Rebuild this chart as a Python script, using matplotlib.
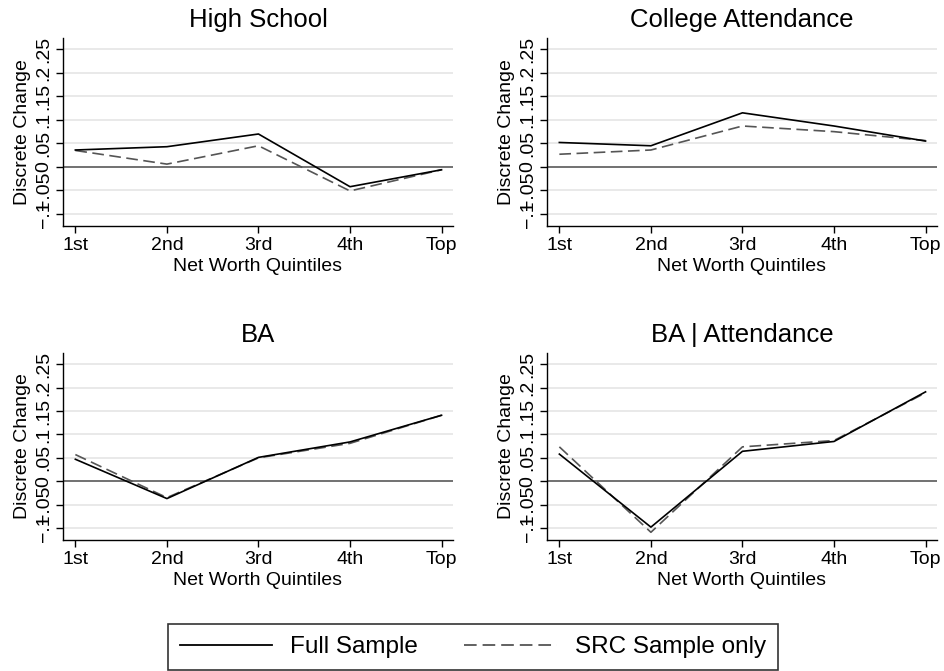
import matplotlib
matplotlib.use("Agg")
import matplotlib.pyplot as plt
from matplotlib.lines import Line2D

plt.rcParams['font.family'] = ['Liberation Sans', 'DejaVu Sans']

quintiles = ["1st", "2nd", "3rd", "4th", "Top"]
titles = ["High School", "College Attendance", "BA", "BA | Attendance"]

hs_full = [0.036, 0.043, 0.070, -0.042, -0.006]
hs_src = [0.035, 0.006, 0.045, -0.051, -0.006]
col_full = [0.052, 0.045, 0.115, 0.087, 0.055]
col_src = [0.027, 0.036, 0.087, 0.075, 0.056]
ba_full = [0.047, -0.037, 0.051, 0.084, 0.141]
ba_src = [0.057, -0.035, 0.050, 0.081, 0.141]
baa_full = [0.058, -0.098, 0.064, 0.085, 0.191]
baa_src = [0.0735, -0.109, 0.0735, 0.087, 0.189]

full_series = [hs_full, col_full, ba_full, baa_full]
src_series = [hs_src, col_src, ba_src, baa_src]

yticks = [-0.1, -0.05, 0, 0.05, 0.1, 0.15, 0.2, 0.25]
ytick_labels = ["\u2212.1", "\u2212.05", "0", ".05", ".1", ".15", ".2", ".25"]

W, H = 945, 671
fig = plt.figure(figsize=(W / 100, H / 100), dpi=100)

# axes boxes in pixels: left, top, right, bottom
boxes = [(63, 38, 453, 226), (547, 38, 937, 226),
         (63, 353, 453, 540), (547, 353, 937, 540)]

DASH = (7, 3.3)
x = list(range(1, 6))
for i, (l, t, r, b) in enumerate(boxes):
    ax = fig.add_axes([l / W, 1 - b / H, (r - l) / W, (b - t) / H])
    for yv in yticks:
        if yv != 0:
            ax.axhline(yv, color="#e3e3e3", lw=1.1, zorder=0)
    ax.axhline(0, color="#4a4a4a", lw=1.1, zorder=1)
    ax.plot(x, src_series[i], color="#555555", lw=1.2, dashes=DASH, zorder=2)
    ax.plot(x, full_series[i], color="black", lw=1.2, zorder=3)
    ax.set_xlim(0.865, 5.125)
    ax.set_ylim(-0.1255, 0.274)
    ax.set_xticks(x)
    ax.set_xticklabels(quintiles, fontsize=14)
    ax.set_yticks(yticks)
    ax.set_yticklabels(ytick_labels, fontsize=14, rotation=90, va="center")
    ax.set_title(titles[i], fontsize=18.5, pad=8)
    ax.set_xlabel("Net Worth Quintiles", fontsize=14, labelpad=3)
    ax.set_ylabel("Discrete Change", fontsize=14, labelpad=3)
    for s in ["top", "right"]:
        ax.spines[s].set_visible(False)
    ax.spines["left"].set_linewidth(1.0)
    ax.spines["bottom"].set_linewidth(1.0)
    ax.tick_params(axis="x", direction="out", length=5, width=1.0, pad=3)
    ax.tick_params(axis="y", direction="out", length=5, width=1.0, pad=2.5)
    ax.set_facecolor("white")

handles = [Line2D([], [], color="black", lw=1.3),
           Line2D([], [], color="#555555", lw=1.3, dashes=DASH)]
leg = fig.legend(handles, ["Full Sample", "SRC Sample only"], loc="center",
                 bbox_to_anchor=(473 / W, 1 - 647 / H), ncol=2, fontsize=17.5,
                 frameon=True, fancybox=False, edgecolor="black",
                 handlelength=3.8, columnspacing=1.9, borderpad=0.5,
                 handletextpad=0.75, borderaxespad=0)
leg.get_frame().set_linewidth(1.2)

fig.savefig("out.png", dpi=100, facecolor="white")
